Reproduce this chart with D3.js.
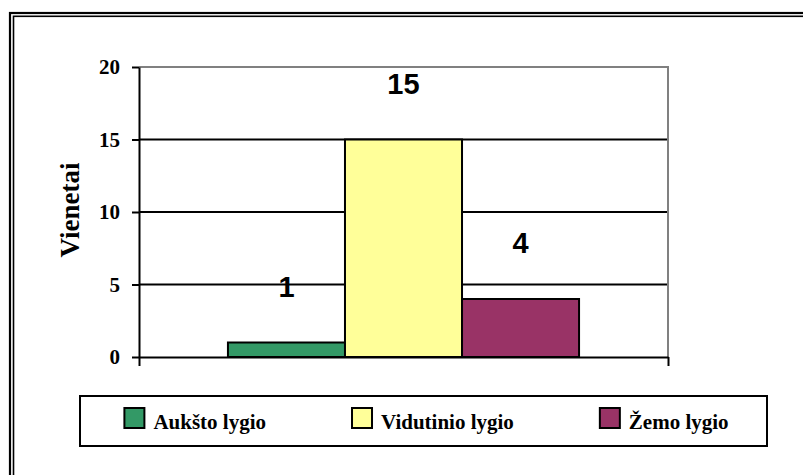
<!DOCTYPE html>
<html>
<head>
<meta charset="utf-8">
<script src="https://d3js.org/d3.v7.min.js"></script>
<style>
  body { margin: 0; background: #fff; }
  .serif { font-family: "Liberation Serif", "Times New Roman", serif; font-weight: bold; }
  .sans { font-family: "Liberation Sans", Arial, sans-serif; font-weight: bold; }
</style>
</head>
<body>
<svg id="chart" width="803" height="475"></svg>
<script>
// chart data
var series = ["Aukšto lygio", "Vidutinio lygio", "Žemo lygio"];
var values = [1, 15, 4];
var colors = ["#339966", "#FFFF99", "#993366"];
var yTicks = [0, 5, 10, 15, 20];
var yTitle = "Vienetai";

var svg = d3.select("#chart");

// outer double frame (runs off the page right and bottom)
svg.append("rect").attr("x", 10).attr("y", 13).attr("width", 830).attr("height", 500)
  .attr("fill", "none").attr("stroke", "#000").attr("stroke-width", 2.2);
svg.append("rect").attr("x", 13.5).attr("y", 16.3).attr("width", 830).attr("height", 500)
  .attr("fill", "none").attr("stroke", "#000").attr("stroke-width", 1.6);

var plotL = 139, plotR = 668, plotT = 67, plotB = 357;

var x = d3.scaleBand().domain(series).range([plotL, plotR]).paddingInner(0).paddingOuter(0.76);
var y = d3.scaleLinear().domain([0, 20]).range([plotB, plotT]);

// gridlines
svg.append("g").selectAll("line").data(yTicks.filter(function(t){ return t > 0 && t < 20; }))
  .enter().append("line")
  .attr("x1", plotL).attr("x2", plotR)
  .attr("y1", function(d){ return y(d); }).attr("y2", function(d){ return y(d); })
  .attr("stroke", "#000").attr("stroke-width", 2);

// plot border top/right (gray)
svg.append("path")
  .attr("d", "M" + plotL + "," + y(20) + "H" + plotR + "V" + y(0))
  .attr("fill", "none").attr("stroke", "#808080").attr("stroke-width", 2);

// bars
svg.append("g").selectAll("rect").data(series).enter().append("rect")
  .attr("x", function(d){ return x(d); })
  .attr("y", function(d, i){ return y(values[i]); })
  .attr("width", x.bandwidth())
  .attr("height", function(d, i){ return y(0) - y(values[i]); })
  .attr("fill", function(d, i){ return colors[i]; })
  .attr("stroke", "#000").attr("stroke-width", 2);

// x axis
var xEdge = d3.scaleLinear().domain([0, 1]).range([plotL, plotR]);
var xAxis = svg.append("g").attr("transform", "translate(0," + plotB + ")")
  .call(d3.axisBottom(xEdge).tickValues([0, 1]).tickFormat("").tickSize(9).tickSizeOuter(0));
xAxis.select(".domain").attr("stroke", "#000").attr("stroke-width", 2);
xAxis.selectAll(".tick line").attr("stroke", "#000").attr("stroke-width", 2);

// y axis
var yAxis = svg.append("g").attr("transform", "translate(" + plotL + ",0)")
  .call(d3.axisLeft(y).tickValues(yTicks).tickSize(7).tickSizeOuter(0).tickPadding(12));
yAxis.select(".domain").attr("stroke", "#000").attr("stroke-width", 2);
yAxis.selectAll(".tick line").attr("stroke", "#000").attr("stroke-width", 2);
yAxis.attr("font-family", null).attr("font-size", null);
yAxis.selectAll(".tick text").attr("class", "serif").attr("font-size", 21).attr("fill", "#000");

// y title
svg.append("text").attr("class", "serif")
  .attr("transform", "translate(79,210) rotate(-90)")
  .attr("text-anchor", "middle").attr("font-size", 27)
  .text(yTitle);

// value labels
svg.append("g").selectAll("text").data(series).enter().append("text")
  .attr("class", "sans")
  .attr("x", function(d){ return x(d) + x.bandwidth() / 2; })
  .attr("y", function(d, i){ return y(values[i]) - 46; })
  .attr("text-anchor", "middle").attr("font-size", 29)
  .text(function(d, i){ return values[i]; });

// legend
var lg = { x: 80, y: 396, w: 687, h: 50 };
svg.append("rect").attr("x", lg.x).attr("y", lg.y).attr("width", lg.w).attr("height", lg.h)
  .attr("fill", "#fff").attr("stroke", "#000").attr("stroke-width", 2);

var items = svg.append("g").selectAll("g").data(series).enter().append("g");
items.append("rect").attr("width", 20).attr("height", 20)
  .attr("fill", function(d, i){ return colors[i]; })
  .attr("stroke", "#000").attr("stroke-width", 2);
items.append("text").attr("class", "serif").attr("x", 29).attr("y", 21)
  .attr("font-size", 21).text(function(d){ return d; });

var widths = [];
items.each(function(){ widths.push(29 + d3.select(this).select("text").node().getComputedTextLength()); });
var gap = 86;
var total = d3.sum(widths) + gap * (widths.length - 1);
var cx = lg.x + (lg.w - total) / 2 + 3;
items.attr("transform", function(d, i){
  var tx = cx;
  cx += widths[i] + gap;
  return "translate(" + tx + "," + (lg.y + 12) + ")";
});
</script>
</body>
</html>
